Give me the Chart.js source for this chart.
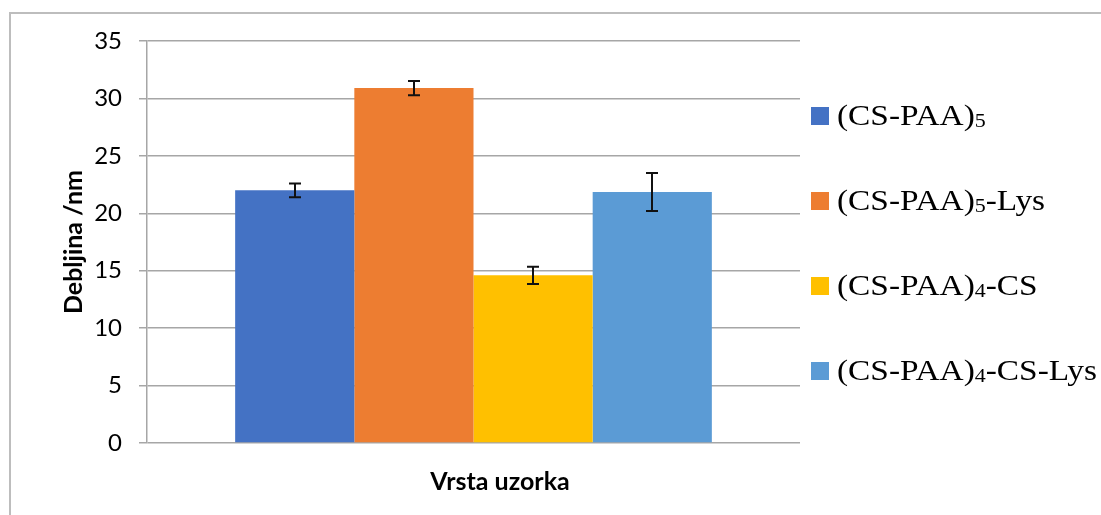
<!DOCTYPE html>
<html lang="hr">
<head>
    <meta charset="UTF-8">
    <title>Debljina filmova</title>
    <script src="https://cdn.jsdelivr.net/npm/chart.js"></script>
    <style>
        body {
            margin: 0;
            background: #fff;
            overflow: hidden;
        }
        .wrap {
            position: relative;
            width: 1101px;
            height: 515px;
            overflow: hidden;
        }
        .frame {
            position: absolute;
            left: 9px;
            top: 12px;
            width: 1200px;
            height: 600px;
            border: 2px solid #bdbdbd;
        }
        #thicknessChart {
            position: absolute;
            left: 0;
            top: 0;
        }
        .xtitle {
            position: absolute;
            left: 400px;
            width: 200px;
            top: 465px;
            text-align: center;
            font-family: Lato, "Open Sans", sans-serif;
            font-weight: bold;
            font-size: 25px;
            line-height: 30px;
            color: #000;
        }
        .legend {
            position: absolute;
            left: 811px;
            top: 73px;
            margin: 0;
            padding: 0;
            list-style: none;
            font-family: "Liberation Serif", "Times New Roman", serif;
            font-size: 29px;
            color: #000;
            white-space: nowrap;
        }
        .legend li {
            height: 85px;
            display: flex;
            align-items: center;
        }
        .legend .box {
            width: 18px;
            height: 18px;
            margin-right: 8px;
            flex: none;
        }
        .legend .txt {
            display: inline-block;
            line-height: 1;
            transform: scaleX(1.15);
            transform-origin: left center;
        }
        .legend .sub {
            font-size: 0.66em;
            position: relative;
            top: 0.12em;
        }
    </style>
</head>
<body>

    <div class="wrap">
        <div class="frame"></div>
        <canvas id="thicknessChart" width="1101" height="515"></canvas>
        <div class="xtitle" id="xTitle"></div>
        <ul class="legend" id="legend"></ul>
    </div>

    <script>
        // Data
        const categories = [""];
        const seriesNames = ["(CS-PAA)₅", "(CS-PAA)₅-Lys", "(CS-PAA)₄-CS", "(CS-PAA)₄-CS-Lys"];
        const thickness = [22.0, 30.9, 14.6, 21.85];
        const thicknessErr = [0.6, 0.62, 0.75, 1.65];
        const yTicks = [0, 5, 10, 15, 20, 25, 30, 35];
        const xTitle = "Vrsta uzorka";
        const yTitle = "Debljina /nm";

        const colors = ["#4472C4", "#ED7D31", "#FFC000", "#5B9BD5"];
        const gridColor = "#a6a6a6";

        // error bars drawn on top of the bars using the y scale
        const errorBars = {
            id: "errorBars",
            afterDatasetsDraw(chart) {
                const ctx = chart.ctx;
                const yScale = chart.scales.y;
                ctx.save();
                ctx.strokeStyle = "#111";
                ctx.lineWidth = 2;
                chart.data.datasets.forEach((ds, i) => {
                    const bar = chart.getDatasetMeta(i).data[0];
                    const v = ds.data[0];
                    const e = thicknessErr[i];
                    const x = Math.round(bar.x);
                    const top = yScale.getPixelForValue(v + e);
                    const bottom = yScale.getPixelForValue(v - e);
                    ctx.beginPath();
                    ctx.moveTo(x, top);
                    ctx.lineTo(x, bottom);
                    ctx.moveTo(x - 6, top);
                    ctx.lineTo(x + 6, top);
                    ctx.moveTo(x - 6, bottom);
                    ctx.lineTo(x + 6, bottom);
                    ctx.stroke();
                });
                ctx.restore();
            }
        };

        Chart.defaults.font.family = "Lato, 'Open Sans', sans-serif";
        Chart.defaults.color = "#000";

        const ctx = document.getElementById("thicknessChart").getContext("2d");
        new Chart(ctx, {
            type: "bar",
            data: {
                labels: categories,
                datasets: seriesNames.map((name, i) => ({
                    label: name,
                    data: [thickness[i]],
                    backgroundColor: colors[i],
                    borderWidth: 0,
                    categoryPercentage: 0.73,
                    barPercentage: 1.0
                }))
            },
            options: {
                responsive: false,
                animation: false,
                layout: {
                    padding: { left: 0, top: 41, right: 301, bottom: 0 }
                },
                plugins: {
                    legend: { display: false },
                    tooltip: { enabled: false }
                },
                scales: {
                    x: {
                        grid: { display: false },
                        border: { display: false },
                        ticks: { display: false },
                        afterFit(scale) { scale.height = 72; }
                    },
                    y: {
                        min: 0,
                        max: 35,
                        afterBuildTicks(scale) {
                            scale.ticks = yTicks.map(v => ({ value: v }));
                        },
                        grid: {
                            color: gridColor,
                            lineWidth: 1.5,
                            tickLength: 8,
                            tickColor: gridColor
                        },
                        border: { color: gridColor, width: 1.5 },
                        ticks: {
                            font: { size: 24 },
                            padding: 17
                        },
                        title: {
                            display: true,
                            text: yTitle,
                            font: { size: 25, weight: "bold" },
                            padding: { top: 59, bottom: 0 }
                        },
                        afterFit(scale) { scale.width = 147; }
                    }
                }
            },
            plugins: [errorBars]
        });

        document.getElementById("xTitle").textContent = xTitle;

        // legend on the right, built from the same series arrays
        const legendEl = document.getElementById("legend");
        seriesNames.forEach((name, i) => {
            const li = document.createElement("li");
            const box = document.createElement("span");
            box.className = "box";
            box.style.background = colors[i];
            const txt = document.createElement("span");
            txt.className = "txt";
            txt.innerHTML = name.replace(/[₀-₉]/g, c =>
                '<span class="sub">' + (c.charCodeAt(0) - 0x2080) + "</span>");
            li.appendChild(box);
            li.appendChild(txt);
            legendEl.appendChild(li);
        });
    </script>

</body>
</html>
